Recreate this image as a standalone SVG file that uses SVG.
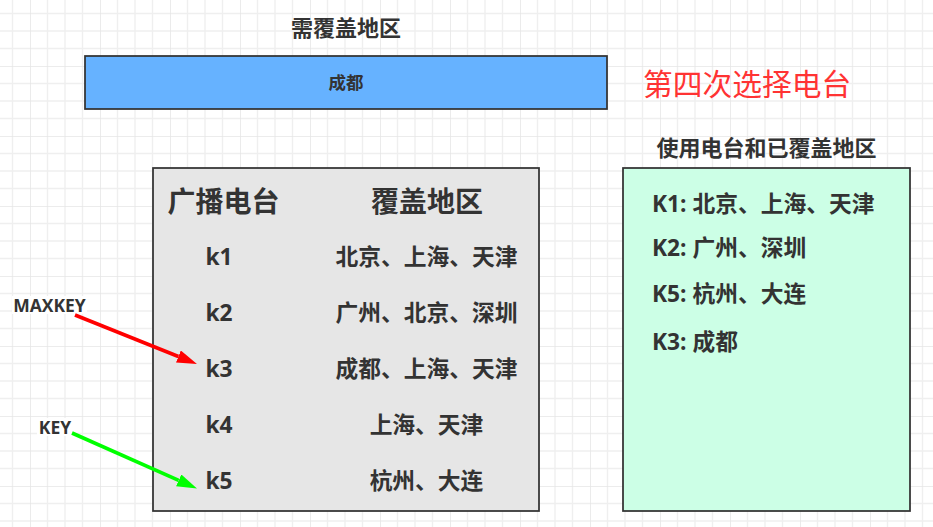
<svg xmlns="http://www.w3.org/2000/svg" width="933" height="527" viewBox="0 0 933 527">
  <defs>
    <pattern id="grid" x="30" y="66" width="70" height="70" patternUnits="userSpaceOnUse">
      <path d="M17.5 0V70M35 0V70M52.5 0V70M0 17.5H70M0 35H70M0 52.5H70" stroke="#efefef" stroke-width="1.4" fill="none"/>
      <path d="M0 0V70M0 0H70" stroke="#e6e6e6" stroke-width="1.6" fill="none"/>
    </pattern>
    <marker id="headRed" viewBox="0 -6.5 20 13" refX="0" refY="0" markerWidth="20" markerHeight="13" markerUnits="userSpaceOnUse" orient="auto">
      <path d="M0,-6.5 L20,0 L0,6.5 Z" fill="#ff0000"/>
    </marker>
    <marker id="headGreen" viewBox="0 -6.5 20 13" refX="0" refY="0" markerWidth="20" markerHeight="13" markerUnits="userSpaceOnUse" orient="auto">
      <path d="M0,-6.5 L20,0 L0,6.5 Z" fill="#00ff00"/>
    </marker>
    <style>
      .t { font-family: "Open Sans", "Noto Sans CJK SC", sans-serif; font-weight: bold; fill: #333333; dominant-baseline: central; }
      .box { stroke: #333333; stroke-width: 1.75; }
      .mid { text-anchor: middle; }
      .row { font-size: 22.75px; }
      .hdr { font-size: 28px; }
      .lbl { font-size: 17.5px; }
    </style>
  </defs>
  <rect width="933" height="527" fill="#ffffff"/>
  <rect width="933" height="527" fill="url(#grid)"/>

  <g id="title-area">
    <text class="t mid" x="346" y="27" style="font-size:22px">需覆盖地区</text>
  </g>

  <g id="chengdu-bar">
    <rect class="box" x="85" y="56" width="522" height="53" fill="#66b2ff"/>
    <text class="t mid lbl" x="346" y="82">成都</text>
  </g>

  <g id="step-title">
    <text x="643" y="82" style="font-family:'Noto Sans CJK SC',sans-serif;font-size:29.75px;fill:#ff3333;dominant-baseline:central">第四次选择电台</text>
  </g>

  <g id="stations-table">
    <rect class="box" x="153" y="168" width="386" height="343" fill="#e6e6e6"/>
    <text class="t mid hdr" x="223.5" y="201">广播电台</text>
    <text class="t mid hdr" x="427" y="201">覆盖地区</text>
    <text class="t mid row" x="219" y="256">k1</text>
    <text class="t mid row" x="426.5" y="256">北京、上海、天津</text>
    <text class="t mid row" x="219" y="312">k2</text>
    <text class="t mid row" x="426.5" y="312">广州、北京、深圳</text>
    <text class="t mid row" x="219" y="368">k3</text>
    <text class="t mid row" x="426.5" y="368">成都、上海、天津</text>
    <text class="t mid row" x="219" y="424">k4</text>
    <text class="t mid row" x="426.5" y="424">上海、天津</text>
    <text class="t mid row" x="219" y="480">k5</text>
    <text class="t mid row" x="426.5" y="480">杭州、大连</text>
  </g>

  <g id="used-title">
    <text class="t mid" x="766.5" y="147" style="font-size:22px">使用电台和已覆盖地区</text>
  </g>

  <g id="used-box">
    <rect class="box" x="623" y="168" width="287" height="343" fill="#ccffe6"/>
    <text class="t row" x="652" y="203">K1: 北京、上海、天津</text>
    <text class="t row" x="652" y="247">K2: 广州、深圳</text>
    <text class="t row" x="652" y="293">K5: 杭州、大连</text>
    <text class="t row" x="652" y="341">K3: 成都</text>
  </g>

  <g id="label-maxkey">
    <rect x="12" y="296" width="75" height="18" fill="#ffffff"/>
    <text class="t mid lbl" x="49.5" y="305">MAXKEY</text>
  </g>

  <g id="label-key">
    <rect x="37" y="418" width="36" height="18" fill="#ffffff"/>
    <text class="t mid lbl" x="55" y="427">KEY</text>
  </g>

  <g id="connectors">
    <line x1="75" y1="315" x2="178.4" y2="356.5" stroke="#ff0000" stroke-width="3.7" marker-end="url(#headRed)"/>
    <line x1="72" y1="433" x2="178.7" y2="480.4" stroke="#00ff00" stroke-width="3.7" marker-end="url(#headGreen)"/>
  </g>
</svg>
